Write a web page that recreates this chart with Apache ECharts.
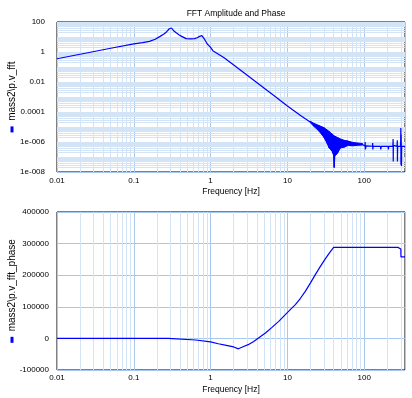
<!DOCTYPE html>
<html>
<head>
<meta charset="utf-8">
<title>FFT Amplitude and Phase</title>
<script src="https://cdn.jsdelivr.net/npm/echarts@6/dist/echarts.min.js"></script>
<style>
  html, body { margin: 0; padding: 0; background: #fff; }
  #main { width: 412px; height: 398px; }
</style>
</head>
<body>
<div id="main"></div>
<script type="text/javascript">
// amplitude, smooth part up to 20 Hz
var ampFreq = [0.01, 0.02, 0.05, 0.1, 0.13, 0.16, 0.19, 0.22, 0.25, 0.27, 0.29, 0.30, 0.31, 0.33, 0.36, 0.39, 0.42, 0.48,
               0.55, 0.62, 0.67, 0.72, 0.77, 0.80, 0.84, 0.90, 1.0, 1.07, 1.5, 2, 3, 5, 7, 10, 15, 20];
var ampVal = [0.355, 0.71, 1.78, 3.47, 4.17, 5.13, 7.08, 11.0, 16.6, 23.4, 35.5, 46.8, 39.8, 26.3, 18.6, 13.8, 11.0, 7.76,
              7.59, 7.76, 8.91, 11.0, 12.3, 11.7, 6.61, 3.55, 2.04, 1.23, 0.417, 0.138, 0.0282, 0.00389, 0.00105, 2.51e-4, 5.62e-5, 2.09e-5];

// noisy part 20..95 Hz, upper and lower edge of the band
var bandFreq = [20, 22, 25, 28, 30, 33, 35, 38, 40, 40.7, 41.5, 43, 45, 49, 55, 62, 70, 80, 95];
var bandHigh = [2.4e-5, 1.78e-5, 1.35e-5, 1.05e-5, 8.9e-6, 6.3e-6, 5.0e-6, 3.5e-6, 2.8e-6, 2.5e-6, 2.4e-6, 2.2e-6, 2.0e-6,
                1.6e-6, 1.3e-6, 1.15e-6, 9.5e-7, 8.7e-7, 7.9e-7];
var bandLow = [1.9e-5, 1.12e-5, 6.3e-6, 3.2e-6, 2.0e-6, 7.9e-7, 4.0e-7, 2.5e-7, 1.3e-7, 2.0e-8, 1.2e-7, 1.4e-7, 1.8e-7,
               4.0e-7, 4.5e-7, 6.0e-7, 5.6e-7, 6.0e-7, 6.3e-7];

// tail after the band, spikes near the end
var tailFreq = [95, 102, 103, 103.5, 106, 128, 129, 129.5, 131, 163, 164, 164.5, 167, 205, 206, 206.5, 209,
                236, 238, 239, 240, 242, 268, 270, 271, 273, 298, 300, 301, 303, 306, 308, 310, 340];
var tailVal = [6.9e-7, 5.5e-7, 1e-6, 3.2e-7, 5.5e-7, 5.2e-7, 8.5e-7, 3.2e-7, 5.2e-7, 5.1e-7, 6.5e-7, 3.2e-7, 5.1e-7,
               5.1e-7, 6.5e-7, 3.2e-7, 5.1e-7, 5.1e-7, 1.6e-6, 5e-8, 6e-7, 5.1e-7, 5.1e-7, 1.3e-6, 5e-8, 5.1e-7,
               5.1e-7, 8.7e-6, 3e-8, 3.2e-6, 2.5e-8, 5.1e-7, 5.1e-7, 5.1e-7];

// phase
var phaseFreq = [0.01, 0.28, 0.29, 0.64, 0.65, 1.0, 1.26, 1.6, 2.0, 2.3, 2.6, 3.2, 3.65, 4.2, 5.18, 6.3, 7.71, 9.4,
                 10.9, 12.7, 14.8, 17.1, 19.9, 23, 26.9, 31, 35.1, 40, 275, 276, 300, 301, 340];
var phaseVal = [0, 0, -5000, -5000, -8000, -11000, -17000, -22000, -27000, -33000, -27000, -18000, -9500, 1000, 17000,
                35000, 54000, 75000, 91000, 107000, 127000, 149000, 175000, 201000, 228000, 251000, 270000, 288000,
                288000, 283000, 283000, 258000, 258000];

// tick labels
var freqTicks = [0.01, 0.1, 1, 10, 100];
var freqLabels = ['0.01', '0.1', '1', '10', '100'];
var ampTicks = [100, 1, 0.01, 0.0001, 1e-6, 1e-8];
var ampLabels = ['100', '1', '0.01', '0.0001', '1e-006', '1e-008'];

var blue = '#0000ff';
var gridMajor = '#a8c8ee';
var gridMinor = '#d4e4f7';
var font = 'Liberation Sans, Arial, sans-serif';

function zip(a, b) {
    return a.map(function (v, i) { return [v, b[i]]; });
}
function logLabel(ticks, labels) {
    return function (v) {
        for (var i = 0; i < ticks.length; i++) {
            if (Math.abs(Math.log10(v) - Math.log10(ticks[i])) < 1e-6) return labels[i];
        }
        return '';
    };
}
// 2..9 lines inside each decade
function minorLines(from, to, key) {
    var out = [];
    for (var d = from; d < to; d *= 10) {
        for (var k = 2; k <= 9; k++) {
            var v = +(d * k).toPrecision(3);
            if (v < to) { var o = {}; o[key] = v; out.push(o); }
        }
    }
    return out;
}
function gridLines(xi, yi, data) {
    return {
        type: 'line', xAxisIndex: xi, yAxisIndex: yi, data: [], z: 1, silent: true,
        markLine: {
            silent: true, symbol: 'none', animation: false, z: 1, precision: 12,
            label: { show: false },
            lineStyle: { color: gridMinor, width: 1, type: 'solid' },
            data: data
        }
    };
}

var myChart = echarts.init(document.getElementById('main'));

var option = {
    animation: false,
    backgroundColor: '#fff',
    title: {
        text: 'FFT Amplitude and Phase',
        left: 231, top: 4, textAlign: 'center',
        textStyle: { fontSize: 8.5, fontWeight: 'normal', color: '#000', fontFamily: font }
    },
    grid: [
        { left: 57, top: 22, width: 348, height: 150, outerBoundsMode: 'none',
          show: true, borderColor: '#000', borderWidth: 1 },
        { left: 57, top: 212, width: 348, height: 158, outerBoundsMode: 'none',
          show: true, borderColor: '#000', borderWidth: 1 }
    ],
    xAxis: [0, 1].map(function (i) {
        return {
            type: 'log', logBase: 10, gridIndex: i, min: 0.01, max: 340,
            name: 'Frequency [Hz]', nameLocation: 'middle', nameGap: 15, nameMoveOverlap: false,
            nameTextStyle: { fontSize: 8.5, color: '#000', fontFamily: font },
            axisLine: { show: false, onZero: false },
            axisTick: { show: false },
            axisLabel: { fontSize: 8, color: '#000', fontFamily: font, margin: i ? 4 : 5,
                         showMaxLabel: false, formatter: logLabel(freqTicks, freqLabels) },
            splitLine: { show: true, lineStyle: { color: gridMajor, width: 1 } }
        };
    }),
    yAxis: [
        {
            type: 'log', logBase: 10, gridIndex: 0, min: 1e-8, max: 100, interval: 1, splitNumber: 10,
            name: '{m| }  mass2\\p.v_fft', nameLocation: 'middle', nameRotate: 90, nameGap: 40,
            nameMoveOverlap: false,
            nameTextStyle: { fontSize: 10, color: '#000', fontFamily: font,
                             rich: { m: { backgroundColor: blue, width: 6, height: 3 } } },
            axisLine: { show: false },
            axisTick: { show: false },
            axisLabel: { fontSize: 8, color: '#000', fontFamily: font, margin: 12, interval: 0,
                         formatter: logLabel(ampTicks, ampLabels) },
            splitLine: { show: true, lineStyle: { color: gridMajor, width: 1 } }
        },
        {
            type: 'value', gridIndex: 1, min: -100000, max: 400000, interval: 100000,
            name: '{m| }  mass2\\p.v_fft_phase', nameLocation: 'middle', nameRotate: 90, nameGap: 40,
            nameMoveOverlap: false,
            nameTextStyle: { fontSize: 10, color: '#000', fontFamily: font,
                             rich: { m: { backgroundColor: blue, width: 6, height: 3 } } },
            axisLine: { show: false },
            axisTick: { show: false },
            axisLabel: { fontSize: 8, color: '#000', fontFamily: font, margin: 8,
                         formatter: function (v) { return String(v); } },
            splitLine: { show: true, lineStyle: { color: gridMajor, width: 1 } }
        }
    ],
    series: [
        gridLines(0, 0, minorLines(0.01, 340, 'xAxis').concat(minorLines(1e-8, 100, 'yAxis'))),
        gridLines(1, 1, minorLines(0.01, 340, 'xAxis')),
        {
            name: 'mass2\\p.v_fft', type: 'line', xAxisIndex: 0, yAxisIndex: 0, z: 3,
            data: zip(ampFreq, ampVal), showSymbol: false,
            lineStyle: { color: blue, width: 1.2 }
        },
        {
            type: 'custom', xAxisIndex: 0, yAxisIndex: 0, z: 3, clip: true,
            data: bandFreq.map(function (f, i) { return [f, bandHigh[i], bandLow[i]]; }),
            encode: { x: 0, y: [1, 2] },
            renderItem: function (params, api) {
                var i = params.dataIndex;
                if (i >= bandFreq.length - 1) return { type: 'group', children: [] };
                var pts = [
                    api.coord([bandFreq[i], bandHigh[i]]),
                    api.coord([bandFreq[i + 1], bandHigh[i + 1]]),
                    api.coord([bandFreq[i + 1], bandLow[i + 1]]),
                    api.coord([bandFreq[i], bandLow[i]])
                ];
                return { type: 'polygon', shape: { points: pts },
                         style: { fill: blue, stroke: blue, lineWidth: 1 } };
            }
        },
        {
            type: 'line', xAxisIndex: 0, yAxisIndex: 0, z: 3,
            data: zip(tailFreq, tailVal), showSymbol: false,
            lineStyle: { color: blue, width: 1.2 }
        },
        {
            name: 'mass2\\p.v_fft_phase', type: 'line', xAxisIndex: 1, yAxisIndex: 1, z: 3,
            data: zip(phaseFreq, phaseVal), showSymbol: false,
            lineStyle: { color: blue, width: 1.2 }
        }
    ]
};

myChart.setOption(option);
</script>
</body>
</html>
